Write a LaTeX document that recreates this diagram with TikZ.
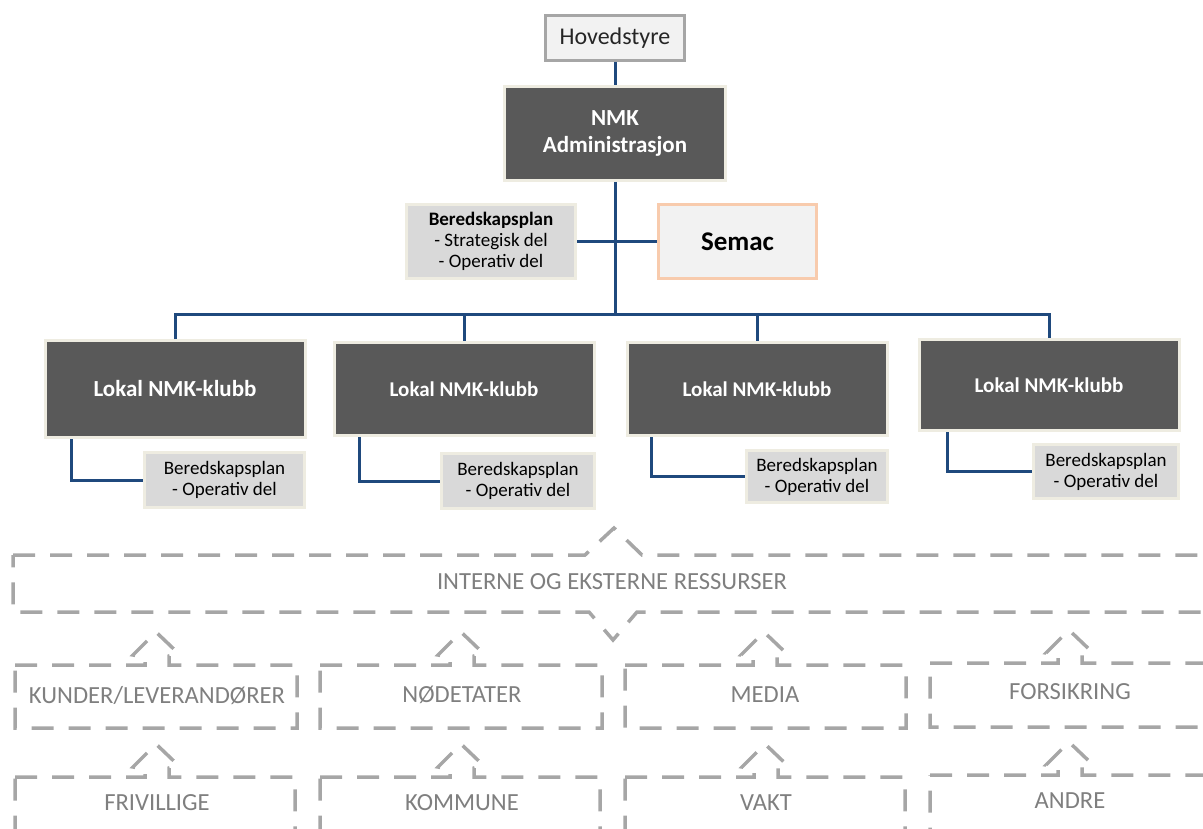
\documentclass[tikz,border=0pt]{standalone}
\usepackage{fontspec}
\setmainfont{Carlito}
\definecolor{BoxGrey}{RGB}{89, 89, 89}
\definecolor{BorderCream}{RGB}{238, 236, 225}
\definecolor{LinkBlue}{RGB}{31, 73, 125}
\definecolor{PlanGrey}{RGB}{217, 217, 217}
\definecolor{PaleGrey}{RGB}{242, 242, 242}
\definecolor{FrameGrey}{RGB}{166, 166, 166}
\definecolor{SemacPeach}{RGB}{248, 203, 173}
\definecolor{TextGrey}{RGB}{127, 127, 127}

\begin{document}
\begin{tikzpicture}[x=1pt, y=-1pt,
    darkbox/.style={draw=BorderCream, fill=BoxGrey, line width=3pt, text=white,
        align=center, inner sep=0pt},
    planbox/.style={draw=BorderCream, fill=PlanGrey, line width=3pt,
        font=\fontsize{19}{21}\selectfont, align=center, inner sep=0pt},
    hovedbox/.style={draw=FrameGrey, fill=PaleGrey, line width=3.5pt, inner sep=0pt,
        font=\fontsize{24}{28}\selectfont, text=black!85},
    semacbox/.style={draw=SemacPeach, fill=PaleGrey, line width=3pt, inner sep=0pt,
        font=\bfseries\fontsize{27}{32}\selectfont},
    link/.style={draw=LinkBlue, line width=3pt},
    dashline/.style={draw=FrameGrey, line width=3.5pt, dash pattern=on 22pt off 15pt},
    restext/.style={text=TextGrey, font=\fontsize{24.6}{28}\selectfont}]
    \useasboundingbox (0,0) rectangle (1203,829);
    \clip (0,0) rectangle (1203,829);

    % Ledelse
    \node[hovedbox, minimum width=139, minimum height=45] (hoved) at (615,38) {Hovedstyre};
    \node[darkbox, minimum width=221, minimum height=94,
        font=\bfseries\fontsize{23}{27}\selectfont] (nmk) at (615,133.5) {NMK\\Administrasjon};
    \node[planbox, minimum width=169, minimum height=74] (plan) at (491,241.5)
        {\textbf{Beredskapsplan}\\- Strategisk del\\- Operativ del};
    \node[semacbox, minimum width=158, minimum height=74] (semac) at (737.5,241.5) {Semac};

    % Lokale klubber
    \foreach \nm/\x/\y/\h/\fs in {
        lok1/175/389/97/23,
        lok2/464/389/93/21,
        lok3/757/389/93/21,
        lok4/1049/385/91/21
    } {
        \node[darkbox, minimum width=260, minimum height=\h,
            font=\bfseries\fontsize{\fs}{26}\selectfont] (\nm) at (\x,\y) {Lokal NMK-klubb};
    }
    \foreach \nm/\x/\y/\w/\h in {
        op1/224.5/480/160/55,
        op2/518/481/153/55,
        op3/817/476.5/141/52,
        op4/1106/471.5/145/54
    } {
        \node[planbox, minimum width=\w, minimum height=\h] (\nm) at (\x,\y)
            {Beredskapsplan\\- Operativ del};
    }

    % Linjer
    \coordinate (bus) at (615,315);
    \draw[link] (hoved) -- (nmk);
    \draw[link] (nmk) -- (bus);
    \draw[link] (plan) -- (semac);
    \draw[link] (lok1.north) -- (lok1.north |- bus) -- (lok4.north |- bus) -- (lok4.north);
    \foreach \i in {2,3}
        \draw[link] (bus -| lok\i.north) -- (lok\i.north);
    \foreach \i/\dx in {1/28, 2/27, 3/26, 4/30}
        \draw[link] ([xshift=\dx]lok\i.south west) |- (op\i.west);

    % Ressurser
    \draw[dashline] (13,555) -- (585,555) -- (614,528) -- (642,555) -- (1215,555)
        -- (1215,612) -- (637,612) -- (613,640) -- (589,612) -- (13,612) -- cycle;
    \node[restext] (res) at (612,582) {INTERNE OG EKSTERNE RESSURSER};

    \foreach \nm/\cx/\xl/\xr/\T/\B/\ty/\lab in {
        kunder/157/15/297/665/728/696/{KUNDER/LEVERANDØRER},
        nod/462/320/602/665/728/695/{NØDETATER},
        media/765/625/906/665/728/695/{MEDIA},
        forsik/1070/930/1215/663/727/692/{FORSIKRING},
        frivil/157/15/295/777/840/803/{FRIVILLIGE},
        kommune/462/320/600/777/840/803/{KOMMUNE},
        vakt/766/625/905/777/840/803/{VAKT},
        andre/1070/930/1215/775/840/801/{ANDRE}
    } {
        \draw[dashline] (\xl,\T) -- (\cx-12,\T) -- (\cx-12,\T-8) -- (\cx-24,\T-10)
            -- (\cx-1,\T-33) -- (\cx+21,\T-12) -- (\cx+12,\T-9) -- (\cx+12,\T)
            -- (\xr,\T) -- (\xr,\B) -- (\xl,\B) -- cycle;
        \node[restext] (\nm) at (\cx,\ty) {\lab};
    }
\end{tikzpicture}
\end{document}
